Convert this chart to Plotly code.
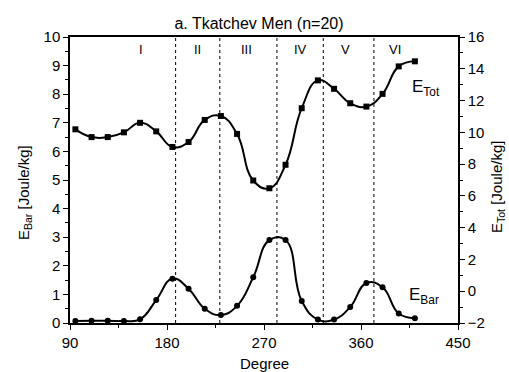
import plotly.graph_objects as go

# Data
degrees = [95, 110, 125, 140, 155, 170, 185, 200, 215, 230, 245, 260, 275, 290,
           305, 320, 335, 350, 365, 380, 395, 410]
e_bar = [0.07, 0.08, 0.08, 0.07, 0.13, 0.80, 1.55, 1.20, 0.50, 0.28, 0.60, 1.60,
         2.90, 2.90, 0.77, 0.12, 0.12, 0.56, 1.40, 1.25, 0.33, 0.17]
e_tot = [10.19, 9.70, 9.70, 10.00, 10.60, 10.06, 9.08, 9.39, 10.78, 11.03, 9.90,
         6.97, 6.48, 7.96, 11.52, 13.27, 12.74, 11.83, 11.62, 12.42, 14.15, 14.47]
phase_bounds = [188, 229, 282, 325, 372]
phase_labels = ["I", "II", "III", "IV", "V", "VI"]
phase_label_x = [156, 208, 254, 304, 346, 392]

FONT = "Liberation Sans, Arial, sans-serif"
W, H = 509, 372
ML, MR, MT, MB = 70, 51, 37, 49
PW, PH = W - ML - MR, H - MT - MB


def px_x(p):
    return (p - ML) / PW


def px_y(p):
    return 1 - (p - MT) / PH


fig = go.Figure()
fig.add_trace(go.Scatter(
    x=degrees, y=e_bar, mode="lines+markers",
    line=dict(color="black", width=2, shape="spline", smoothing=1.3),
    marker=dict(symbol="circle", size=6, color="black"),
    showlegend=False, yaxis="y"))
fig.add_trace(go.Scatter(
    x=degrees, y=e_tot, mode="lines+markers",
    line=dict(color="black", width=2, shape="spline", smoothing=1.3),
    marker=dict(symbol="square", size=6, color="black"),
    showlegend=False, yaxis="y2"))

for b in phase_bounds:
    fig.add_shape(type="line", xref="x", yref="paper", x0=b, x1=b, y0=0, y1=1,
                  line=dict(color="black", width=1, dash="3px,3px"))

for lab, lx in zip(phase_labels, phase_label_x):
    fig.add_annotation(x=lx, y=px_y(49), xref="x", yref="paper", text=lab,
                       showarrow=False, yanchor="middle",
                       font=dict(size=13, color="#000000", family=FONT))

# curve labels
fig.add_annotation(x=px_x(410), y=px_y(88), xref="paper", yref="paper",
                   text="E<sub>Tot</sub>", showarrow=False,
                   xanchor="left", yanchor="middle",
                   font=dict(size=17, color="black", family=FONT))
fig.add_annotation(x=px_x(407), y=px_y(296), xref="paper", yref="paper",
                   text="E<sub>Bar</sub>", showarrow=False,
                   xanchor="left", yanchor="middle",
                   font=dict(size=17, color="black", family=FONT))

# axis titles
fig.add_annotation(x=px_x(24), y=px_y(193), xref="paper", yref="paper",
                   text="E<sub>Bar</sub> [Joule/kg]", textangle=-90, showarrow=False,
                   xanchor="center", yanchor="middle",
                   font=dict(size=15, color="black", family=FONT))
fig.add_annotation(x=px_x(497), y=px_y(187), xref="paper", yref="paper",
                   text="E<sub>Tot</sub> [Joule/kg]", textangle=-90, showarrow=False,
                   xanchor="center", yanchor="middle",
                   font=dict(size=15, color="black", family=FONT))
fig.add_annotation(x=px_x(264), y=px_y(363), xref="paper", yref="paper",
                   text="Degree", showarrow=False,
                   xanchor="center", yanchor="middle",
                   font=dict(size=15, color="black", family=FONT))

axis_common = dict(showline=True, linecolor="black", linewidth=1.5, ticks="outside",
                   ticklen=5, tickwidth=1.2, tickcolor="black", showgrid=False,
                   zeroline=False, automargin=False,
                   tickfont=dict(size=15, color="black", family=FONT))

fig.update_layout(
    width=W, height=H,
    margin=dict(l=ML, r=MR, t=MT, b=MB),
    paper_bgcolor="white", plot_bgcolor="white",
    title=dict(text="a. Tkatchev Men (n=20)", x=259 / W, xanchor="center",
               y=1 - 23 / H, yanchor="middle",
               font=dict(size=16, color="black", family=FONT)),
    xaxis=dict(range=[90, 450], tickvals=[90, 180, 270, 360, 450], mirror=True,
               minor=dict(tickvals=[135, 225, 315, 405], ticklen=3, ticks="outside",
                          tickcolor="black"),
               **axis_common),
    yaxis=dict(range=[0, 10], dtick=1,
               minor=dict(dtick=0.5, ticklen=3, ticks="outside", tickcolor="black"),
               **axis_common),
    yaxis2=dict(range=[-2, 16], dtick=2, overlaying="y", side="right",
                minor=dict(dtick=1, ticklen=3, ticks="outside", tickcolor="black"),
                **axis_common),
)

fig.write_html("out.html")
